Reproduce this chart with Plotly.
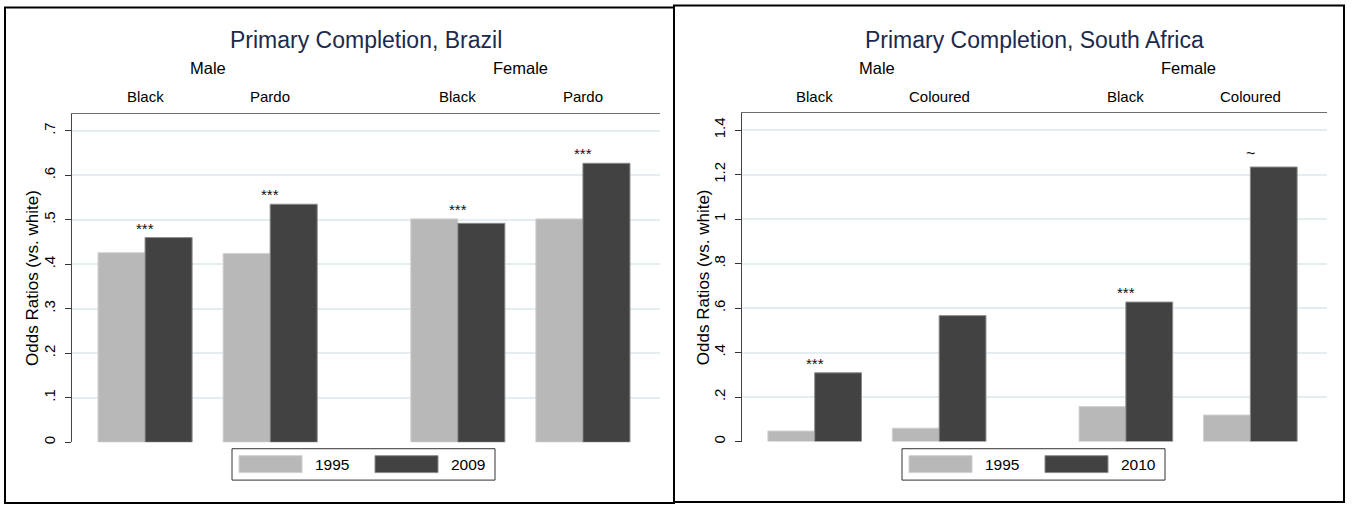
import plotly.graph_objects as go

# ---------------- data ----------------
genders = ["Male", "Male", "Female", "Female"]
br_groups = ["Black", "Pardo", "Black", "Pardo"]
br_1995 = [0.426, 0.424, 0.502, 0.502]
br_2009 = [0.460, 0.535, 0.492, 0.627]
br_sig = ["***", "***", "***", "***"]

sa_groups = ["Black", "Coloured", "Black", "Coloured"]
sa_1995 = [0.047, 0.060, 0.157, 0.119]
sa_2010 = [0.309, 0.566, 0.627, 1.234]
sa_sig = ["***", "", "***", "~"]

br_ticks = [0, 0.1, 0.2, 0.3, 0.4, 0.5, 0.6, 0.7]
br_ticktext = ["0", ".1", ".2", ".3", ".4", ".5", ".6", ".7"]
sa_ticks = [0, 0.2, 0.4, 0.6, 0.8, 1.0, 1.2, 1.4]
sa_ticktext = ["0", ".2", ".4", ".6", ".8", "1", "1.2", "1.4"]

# ---------------- styling ----------------
W, H = 1352, 506
C_LIGHT = "#b8b8b8"
C_DARK = "#424242"
C_EDGE = "#8a8a8a"
GRID = "#e4eef0"
TITLE_C = "#1c2a4e"
FONT = "Liberation Sans, Arial, sans-serif"


def px_x(v):
    return v / W


def px_y(v):
    return 1 - v / H


# positions: groups spaced 1 apart within gender, extra half gap between genders
gender_order = ["Male", "Female"]
pos = [i + 0.5 * gender_order.index(g) for i, g in enumerate(genders)]

fig = go.Figure()

panels = [
    dict(xa="x", ya="y", groups=br_groups, a=br_1995, b=br_2009, sig=br_sig,
         years=("1995", "2009"), ticks=br_ticks, ticktext=br_ticktext,
         yrange=[0, 0.7388], xdom=(72, 660), ydom=(114, 444),
         title="Primary Completion, Brazil", legend_x=232),
    dict(xa="x2", ya="y2", groups=sa_groups, a=sa_1995, b=sa_2010, sig=sa_sig,
         years=("1995", "2010"), ticks=sa_ticks, ticktext=sa_ticktext,
         yrange=[0, 1.4776], xdom=(742, 1327), ydom=(113.3, 443.3),
         title="Primary Completion, South Africa", legend_x=902),
]

annotations = []
shapes = []

for k, p in enumerate(panels):
    fig.add_trace(go.Bar(x=pos, y=p["a"], name=p["years"][0], xaxis=p["xa"], yaxis=p["ya"],
                         marker=dict(color=C_LIGHT, line=dict(color="#d0d0d0", width=1)),
                         showlegend=False, hoverinfo="y"))
    fig.add_trace(go.Bar(x=pos, y=p["b"], name=p["years"][1], xaxis=p["xa"], yaxis=p["ya"],
                         marker=dict(color=C_DARK, line=dict(color=C_EDGE, width=1)),
                         showlegend=False, hoverinfo="y"))

    # significance markers
    for xi, a, b, s in zip(pos, p["a"], p["b"], p["sig"]):
        if not s:
            continue
        star = s.startswith("*")
        annotations.append(dict(x=xi, y=max(a, b), xref=p["xa"], yref=p["ya"], text=s,
                                showarrow=False, xanchor="center", yanchor="bottom",
                                yshift=-1 if star else 3,
                                font=dict(size=15 if star else 16, color="#111")))
    # group labels
    for xi, g in zip(pos, p["groups"]):
        annotations.append(dict(x=xi, y=px_y(97), xref=p["xa"], yref="paper", text=g,
                                showarrow=False, xanchor="center", yanchor="middle",
                                font=dict(size=15, color="#000")))
    # gender labels
    for gi, g in enumerate(gender_order):
        xs = [x for x, gg in zip(pos, genders) if gg == g]
        annotations.append(dict(x=sum(xs) / len(xs), y=px_y(68), xref=p["xa"], yref="paper",
                                text=g, showarrow=False, xanchor="center", yanchor="middle",
                                font=dict(size=16.5, color="#000")))
    # title
    cx = (p["xdom"][0] + p["xdom"][1]) / 2
    annotations.append(dict(x=px_x(cx), y=px_y(40), xref="paper", yref="paper",
                            text=p["title"], showarrow=False, xanchor="center", yanchor="middle",
                            font=dict(size=23, color=TITLE_C)))
    # y axis title
    annotations.append(dict(x=px_x(p["xdom"][0] - 39), y=px_y((p["ydom"][0] + p["ydom"][1]) / 2),
                            xref="paper", yref="paper", text="Odds Ratios (vs. white)",
                            textangle=-90, showarrow=False, xanchor="center", yanchor="middle",
                            font=dict(size=17, color="#000")))

    # axes
    xkey = "xaxis" if k == 0 else "xaxis2"
    ykey = "yaxis" if k == 0 else "yaxis2"
    fig.update_layout({
        xkey: dict(domain=[px_x(p["xdom"][0]), px_x(p["xdom"][1])],
                   range=[-0.584, 4.116], side="top", showticklabels=False,
                   showgrid=False, zeroline=False, showline=True,
                   linecolor="#6e6e6e", linewidth=1, ticks="",
                   anchor="y" if k == 0 else "y2"),
        ykey: dict(domain=[px_y(p["ydom"][1]), px_y(p["ydom"][0])],
                   range=p["yrange"], tickvals=p["ticks"], ticktext=p["ticktext"],
                   tickangle=-90, ticks="outside", ticklen=6, tickcolor="#333",
                   ticklabelstandoff=4,
                   tickfont=dict(size=15, color="#000"),
                   showgrid=True, gridcolor=GRID, gridwidth=1.5, zeroline=False,
                   showline=True, linecolor="#444", linewidth=1,
                   anchor="x" if k == 0 else "x2"),
    })

    # manual legend
    lx = p["legend_x"]
    ly0, ly1 = 450.5, 482
    shapes.append(dict(type="rect", xref="paper", yref="paper",
                       x0=px_x(lx), x1=px_x(lx + 263), y0=px_y(ly1), y1=px_y(ly0),
                       line=dict(color="#333", width=1), fillcolor="white"))
    shapes.append(dict(type="rect", xref="paper", yref="paper",
                       x0=px_x(lx + 7), x1=px_x(lx + 70), y0=px_y(474.5), y1=px_y(457.5),
                       line=dict(color="#d0d0d0", width=1), fillcolor=C_LIGHT))
    shapes.append(dict(type="rect", xref="paper", yref="paper",
                       x0=px_x(lx + 143), x1=px_x(lx + 206), y0=px_y(474.5), y1=px_y(457.5),
                       line=dict(color=C_EDGE, width=1), fillcolor=C_DARK))
    annotations.append(dict(x=px_x(lx + 81), y=px_y(466), xref="paper", yref="paper",
                            text=p["years"][0], showarrow=False, xanchor="left", yanchor="middle",
                            font=dict(size=15.5, color="#000")))
    annotations.append(dict(x=px_x(lx + 217), y=px_y(466), xref="paper", yref="paper",
                            text=p["years"][1], showarrow=False, xanchor="left", yanchor="middle",
                            font=dict(size=15.5, color="#000")))

# panel frames
shapes.append(dict(type="rect", xref="paper", yref="paper",
                   x0=px_x(5), x1=px_x(674), y0=px_y(505), y1=px_y(7.5),
                   line=dict(color="#000", width=2)))
shapes.append(dict(type="rect", xref="paper", yref="paper",
                   x0=px_x(674), x1=px_x(1344), y0=px_y(504), y1=px_y(5.5),
                   line=dict(color="#000", width=2)))

fig.update_layout(
    width=W, height=H,
    margin=dict(l=0, r=0, t=0, b=0),
    paper_bgcolor="white", plot_bgcolor="white",
    barmode="group", bargap=0.248, bargroupgap=0,
    font=dict(family=FONT, color="#000"),
    annotations=annotations, shapes=shapes,
    showlegend=False,
)

fig.write_html("out.html",
               config={"displayModeBar": False},
               post_script="document.body.style.margin='0';document.body.style.overflow='hidden';")
